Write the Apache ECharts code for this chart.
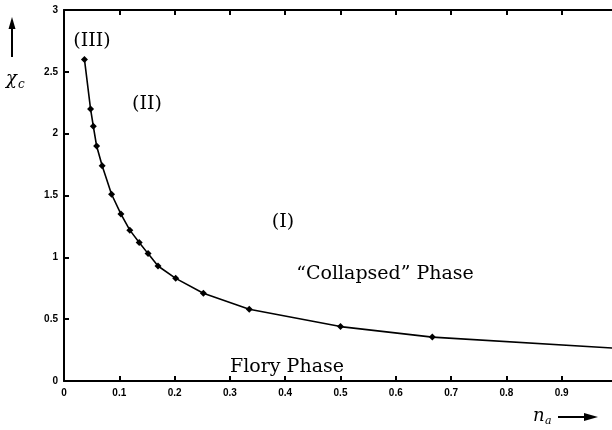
<!DOCTYPE html>
<html>
<head>
    <meta charset="UTF-8">
    <title></title>
    <script src="https://cdn.jsdelivr.net/npm/echarts@6/dist/echarts.min.js"></script>
</head>
<body style="margin:0;background:#fff">
<div id="main" style="width: 612px;height:430px;"></div>
<script type="text/javascript">
    // phase boundary n_a -> chi_c
    var naValues = [0.037, 0.048, 0.053, 0.059, 0.069, 0.086, 0.103, 0.119, 0.136, 0.152, 0.17, 0.202, 0.252, 0.335, 0.5, 0.666, 1.0];
    var chiValues = [2.6, 2.2, 2.06, 1.9, 1.74, 1.51, 1.35, 1.22, 1.12, 1.03, 0.93, 0.83, 0.71, 0.58, 0.44, 0.355, 0.265];
    var xTicks = [0, 0.1, 0.2, 0.3, 0.4, 0.5, 0.6, 0.7, 0.8, 0.9];

    var data = [];
    for (var i = 0; i < naValues.length; i++) {
        data.push([naValues[i], chiValues[i]]);
    }

    var myChart = echarts.init(document.getElementById('main'));
    var serif = 'DejaVu Serif';
    var axisFont = {color: '#000', fontSize: 10, fontWeight: 'bold', fontFamily: 'Liberation Sans'};

    option = {
        backgroundColor: '#fff',
        animation: false,
        grid: {left: 64, top: 10, width: 553, height: 371, containLabel: false, outerBoundsMode: 'none'},
        xAxis: [{
            type: 'value',
            min: 0,
            max: 1,
            interval: 0.1,
            axisLine: {lineStyle: {color: '#000', width: 2}},
            axisTick: {inside: true, length: 5, lineStyle: {color: '#000', width: 2}},
            axisLabel: Object.assign({
                margin: 7,
                formatter: function (v) {
                    return xTicks.indexOf(Math.round(v * 10) / 10) >= 0 ? String(Math.round(v * 10) / 10) : '';
                }
            }, axisFont),
            splitLine: {show: false}
        }, {
            type: 'value',
            position: 'top',
            min: 0,
            max: 1,
            interval: 0.1,
            axisLine: {lineStyle: {color: '#000', width: 2}},
            axisTick: {inside: true, length: 5, lineStyle: {color: '#000', width: 2}},
            axisLabel: {show: false},
            splitLine: {show: false}
        }],
        yAxis: {
            type: 'value',
            min: 0,
            max: 3,
            interval: 0.5,
            axisLine: {lineStyle: {color: '#000', width: 2}},
            axisTick: {inside: true, length: 5, lineStyle: {color: '#000', width: 2}},
            axisLabel: Object.assign({margin: 6}, axisFont),
            splitLine: {show: false}
        },
        series: [{
            type: 'line',
            data: data,
            symbol: 'diamond',
            symbolSize: 7,
            lineStyle: {color: '#000', width: 1.6},
            itemStyle: {color: '#000'}
        }],
        graphic: [
            // y axis name: arrow and chi_c
            {type: 'line', shape: {x1: 12, y1: 57, x2: 12, y2: 26}, style: {stroke: '#000', lineWidth: 2}},
            {type: 'polygon', shape: {points: [[12, 17], [8.5, 29], [15.5, 29]]}, style: {fill: '#000'}},
            {type: 'text', left: 6, top: 70, style: {text: 'χ', font: 'italic 18px "DejaVu Serif"', fill: '#000'}},
            {type: 'text', left: 18, top: 79, style: {text: 'c', font: 'italic 12px "DejaVu Serif"', fill: '#000'}},
            // x axis name: n_a and arrow
            {type: 'text', left: 533, top: 407, style: {text: 'n', font: 'italic 18px "DejaVu Serif"', fill: '#000'}},
            {type: 'text', left: 545, top: 416, style: {text: 'a', font: 'italic 11px "DejaVu Serif"', fill: '#000'}},
            {type: 'line', shape: {x1: 558, y1: 417, x2: 588, y2: 417}, style: {stroke: '#000', lineWidth: 2}},
            {type: 'polygon', shape: {points: [[598, 417], [584, 413], [584, 421]]}, style: {fill: '#000'}},
            // region labels
            {type: 'text', x: 92, y: 41, style: {text: '(III)', font: '19px ' + serif, fill: '#000', align: 'center', verticalAlign: 'middle'}},
            {type: 'text', x: 147, y: 104, style: {text: '(II)', font: '19px ' + serif, fill: '#000', align: 'center', verticalAlign: 'middle'}},
            {type: 'text', x: 283, y: 222, style: {text: '(I)', font: '19px ' + serif, fill: '#000', align: 'center', verticalAlign: 'middle'}},
            {type: 'text', x: 385, y: 274, style: {text: '\u201cCollapsed\u201d Phase', font: '19px ' + serif, fill: '#000', align: 'center', verticalAlign: 'middle'}},
            {type: 'text', x: 287, y: 367, style: {text: 'Flory Phase', font: '19px ' + serif, fill: '#000', align: 'center', verticalAlign: 'middle'}}
        ]
    };
    myChart.setOption(option);
</script>
</body>
</html>
